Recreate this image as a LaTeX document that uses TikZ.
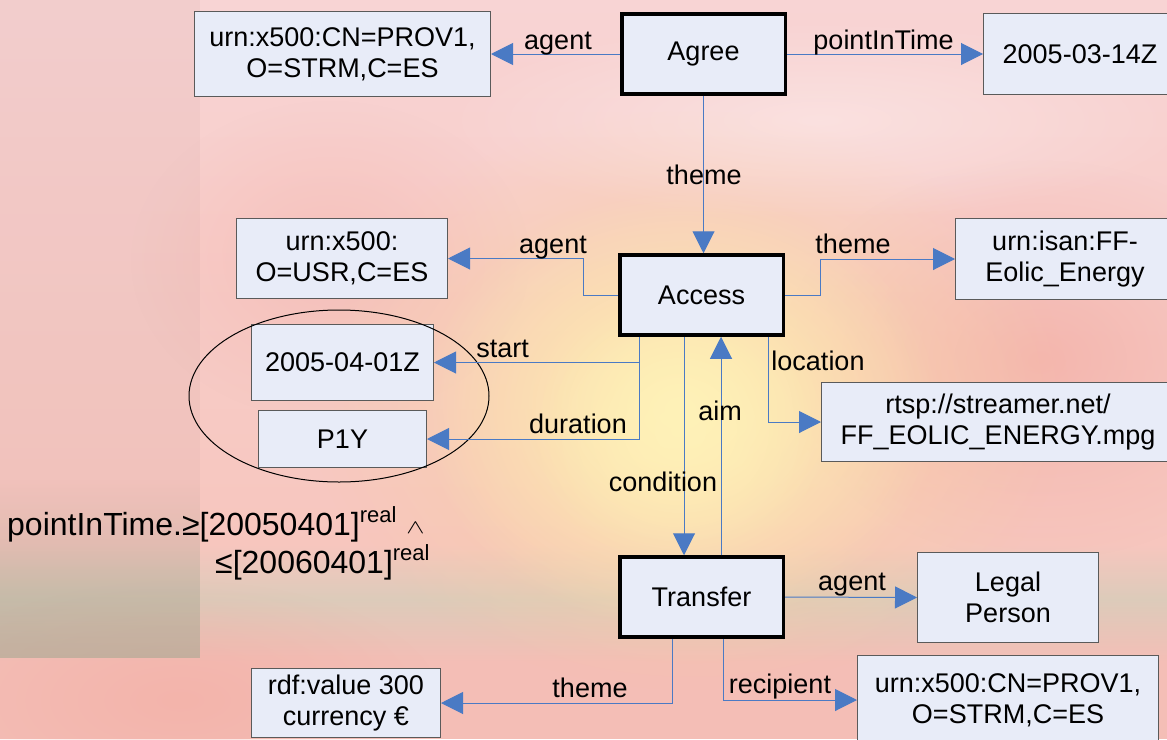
\documentclass[tikz,border=0pt]{standalone}
\usepackage{fontspec}
\setmainfont{Liberation Sans}
\usetikzlibrary{arrows.meta,fadings,calc,shapes.geometric}

\definecolor{boxfill}{HTML}{E8ECF8}
\definecolor{boxline}{HTML}{5A5A5A}
\definecolor{linkblue}{HTML}{4A7AC4}
\definecolor{skytop}{HTML}{F8D4D4}
\definecolor{skymid}{HTML}{F7C6BE}
\definecolor{horizon}{HTML}{DCCBBA}
\definecolor{sea}{HTML}{F4BEB6}
\definecolor{sunglow}{HTML}{FFF2B8}
\definecolor{warm}{HTML}{FAD2A0}
\definecolor{salmon}{HTML}{F2A89E}
\definecolor{panel}{HTML}{C79C9A}
\definecolor{panelsea}{HTML}{A4AA92}

\tikzfading[name=softspot, inner color=transparent!0, outer color=transparent!100]
\tikzfading[name=fadedown, top color=transparent!100, bottom color=transparent!0]

\begin{document}
\begin{tikzpicture}[x=1pt,y=-1pt,
  every node/.style={font=\fontsize{27}{31}\selectfont, inner sep=0pt},
  valbox/.style={draw=boxline, line width=1pt, fill=boxfill, align=center},
  evtbox/.style={draw=black, line width=3.5pt, fill=boxfill, align=center,
                 minimum width=163.5pt, minimum height=80pt},
  link/.style={draw=linkblue, line width=1pt, -{Triangle[length=22pt,width=22pt]}},
  lbl/.style={anchor=base},
  cond/.style={anchor=base west, font=\fontsize{32}{38}\selectfont},
]
\useasboundingbox (0,0) rectangle (1167,739);
\clip (0,0) rectangle (1167,739);

% sunset backdrop
\shade[top color=skytop, bottom color=skymid] (0,0) rectangle (1167,545);
\shade[top color=skymid, bottom color=horizon] (0,544) rectangle (1167,600);
\shade[top color=horizon, bottom color=sea] (0,599) rectangle (1167,662);
\fill[sea] (0,661) rectangle (1167,739);
\fill[salmon, path fading=softspot, opacity=0.6] (1040,360) ellipse [x radius=260, y radius=200];
\fill[salmon, path fading=softspot, opacity=0.45] (180,700) ellipse [x radius=260, y radius=120];
\fill[salmon, path fading=softspot, opacity=0.35] (330,260) ellipse [x radius=200, y radius=160];
\fill[warm, path fading=softspot, opacity=0.95] (690,400) ellipse [x radius=380, y radius=290];
\fill[sunglow, path fading=softspot, opacity=1] (680,410) ellipse [x radius=260, y radius=220];
\fill[sunglow, path fading=softspot, opacity=0.8] (680,430) ellipse [x radius=150, y radius=140];
\fill[white, path fading=softspot, opacity=0.35] (820,120) ellipse [x radius=380, y radius=100];

% translucent side panel
\fill[panel, opacity=0.12] (0,0) rectangle (200,658);
\fill[panelsea, path fading=fadedown, opacity=0.55] (0,480) rectangle (200,658);

% value and event boxes
\node[valbox, minimum width=296pt, minimum height=85pt] (prov1a) at (342.5,54) {urn:x500:CN=PROV1,\\O=STRM,C=ES};
\node[evtbox] (agree) at (703.5,54) {Agree};
\node[valbox, minimum width=193pt, minimum height=81pt] (d0314) at (1080,54) {2005-03-14Z};
\node[valbox, minimum width=211pt, minimum height=80pt] (usr) at (342,258.5) {urn:x500:\\O=USR,C=ES};
\node[evtbox] (access) at (701.5,295) {Access};
\node[valbox, minimum width=219pt, minimum height=81pt] (isan) at (1065,259) {urn:isan:FF-\\Eolic\textunderscore Energy};
\node[valbox, minimum width=182pt, minimum height=76pt] (d0401) at (342.5,362.5) {2005-04-01Z};
\node[valbox, minimum width=168pt, minimum height=57pt] (p1y) at (342.5,439) {P1Y};
\node[valbox, minimum width=353pt, minimum height=79pt] (rtsp) at (998,422) {rtsp://streamer.net/\\FF\textunderscore EOLIC\textunderscore ENERGY.mpg};
\node[evtbox] (transfer) at (701.5,597) {Transfer};
\node[valbox, minimum width=181pt, minimum height=90pt] (legal) at (1008,597.5) {Legal\\Person};
\node[valbox, minimum width=189pt, minimum height=69pt] (rdf) at (346,703) {rdf:value 300\\currency €};
\node[valbox, minimum width=301pt, minimum height=89pt] (recip) at (1008,700) {urn:x500:CN=PROV1,\\O=STRM,C=ES};

% grouping ellipse round the interval
\node[draw=black, line width=1pt, ellipse, minimum width=300pt, minimum height=172pt] (interval) at (339,396) {};

% connectors
\draw[link] (agree.west) -- (prov1a.east);
\draw[link] (agree.east) -- (d0314.west);
\draw[link] (agree.south) -- (agree.south |- access.north);
\draw[link] (access.west) -- ++(-35,0) |- (usr.east);
\draw[link] (access.east) -- ++(35,0) |- (isan.west);
\coordinate (accsd) at ($(access.south west)+(21,0)$);
\draw[link] (accsd) |- (d0401.east);
\draw[link] (accsd) |- (p1y.east);
\draw[link] ($(access.south)+(-17.5,0)$) -- ($(transfer.north)+(-17.5,0)$);
\draw[link] ($(transfer.north)+(19.5,0)$) -- ($(access.south)+(19.5,0)$);
\draw[link] ($(access.south)+(67,0)$) |- (rtsp.west);
\draw[link] (transfer.east) -- (legal.west);
\draw[link] ($(transfer.south)+(-29.5,0)$) |- (rdf.east);
\draw[link] ($(transfer.south)+(21.5,0)$) |- (recip.west);

% role labels
\node[lbl] (lagree1) at (558,49) {agent};
\node[lbl] (lagree2) at (883.5,49) {pointInTime};
\node[lbl] (lagree3) at (704,184) {theme};
\node[lbl] (lacc1) at (553,253) {agent};
\node[lbl] (lacc2) at (853,253) {theme};
\node[lbl] (lacc3) at (502.5,357) {start};
\node[lbl] (lacc4) at (578,433) {duration};
\node[lbl] (lacc5) at (818,370) {location};
\node[lbl] (laim) at (720,420) {aim};
\node[lbl] (lcond) at (663,491) {condition};
\node[lbl] (ltr1) at (852,590) {agent};
\node[lbl] (ltr2) at (780,693) {recipient};
\node[lbl] (ltr3) at (590,697) {theme};

% time constraint
\node[cond] (cond1) at (7,535) {pointInTime.≥[20050401]\raisebox{13pt}{\fontsize{22}{22}\selectfont real}\hspace{10pt}\raisebox{2pt}{\scalebox{1.1}[0.8]{\fontsize{24}{24}\selectfont$\wedge$}}};
\node[cond] (cond2) at (215,573) {≤[20060401]\raisebox{13pt}{\fontsize{22}{22}\selectfont real}};
\end{tikzpicture}
\end{document}
